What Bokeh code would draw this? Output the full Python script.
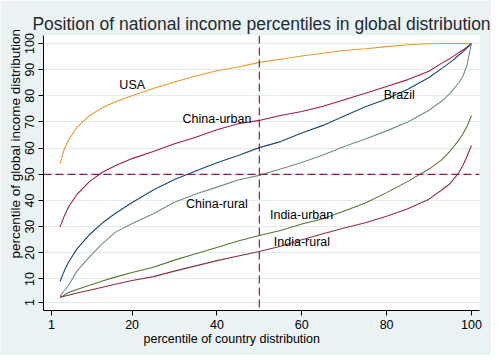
from bokeh.plotting import figure
from bokeh.models import Range1d, FixedTicker, Span, Label, Title
from bokeh.embed import file_html
from bokeh.resources import INLINE

# ---- data ----
x_pct = [3, 4, 5, 7, 10, 13, 16, 20, 25, 30, 35, 40, 45, 50, 55, 60, 65, 70, 75, 80, 85, 90, 93, 95, 97, 98, 99, 100]

usa = [54.0, 59.5, 63.0, 68.0, 72.5, 75.5, 77.6, 80.0, 82.8, 85.3, 87.6, 89.6, 91.0, 92.8, 94.0, 95.2, 96.3, 97.3, 98.0, 98.8, 99.5, 99.9, 100.0, 100.0, 100.0, 100.0, 100.0, 100.0]
china_urban = [29.8, 34.0, 37.5, 42.3, 47.3, 50.8, 53.3, 56.0, 58.7, 61.7, 64.2, 67.0, 69.3, 70.6, 72.5, 74.0, 76.0, 78.5, 81.0, 83.6, 86.2, 89.4, 92.5, 94.3, 96.5, 97.5, 98.7, 100.0]
brazil = [9.0, 13.0, 16.4, 21.5, 27.0, 31.4, 35.0, 39.2, 44.0, 48.0, 51.3, 54.4, 57.2, 60.2, 62.5, 65.8, 68.7, 72.3, 75.8, 78.8, 82.5, 87.0, 90.5, 92.8, 95.5, 96.8, 98.3, 100.0]
china_rural = [3.5, 5.5, 7.5, 13.0, 18.5, 23.5, 27.8, 31.2, 34.9, 39.3, 42.5, 45.1, 47.8, 49.6, 52.0, 54.5, 57.4, 60.6, 63.5, 66.6, 70.0, 74.5, 78.0, 81.0, 85.0, 87.5, 92.0, 100.0]
india_urban = [3.0, 3.8, 4.8, 6.0, 7.6, 9.2, 10.7, 12.5, 14.5, 17.2, 19.6, 22.0, 24.5, 26.6, 28.5, 31.0, 33.0, 36.0, 39.0, 43.0, 47.3, 52.0, 55.5, 59.0, 63.0, 65.5, 68.5, 72.5]
india_rural = [3.0, 3.4, 3.8, 4.6, 5.7, 6.8, 8.0, 9.4, 10.9, 13.0, 15.0, 17.0, 18.8, 20.5, 22.5, 25.0, 27.3, 29.5, 31.5, 34.0, 36.8, 40.5, 44.0, 46.5, 50.5, 53.5, 57.0, 61.0]

series_names = ["USA", "China-urban", "Brazil", "China-rural", "India-urban", "India-rural"]
series_values = [usa, china_urban, brazil, china_rural, india_urban, india_rural]
series_colors = ["#E39A32", "#A01A52", "#1A476F", "#6E8E84", "#55752F", "#8C3040"]

label_x = [17.0, 31.9, 79.3, 32.7, 52.5, 53.4]
label_y = [84.3, 71.3, 80.5, 38.8, 34.3, 24.1]

x_ticks = [1, 20, 40, 60, 80, 100]
y_ticks = [1, 10, 20, 30, 40, 50, 60, 70, 80, 90, 100]
ref_value = 50

title_text = "Position of national income percentiles in global distribution"
x_title = "percentile of country distribution"
y_title = "percentile of global income distribution"

FONT = "Liberation Sans"
BG = "#EAF2F3"

p = figure(width=491, height=355, output_backend="svg", toolbar_location=None,
           x_range=Range1d(-0.886, 101.9), y_range=Range1d(-2.06, 103.06),
           min_border_left=43, min_border_right=12, min_border_top=35, min_border_bottom=45,
           title=title_text)
p.border_fill_color = BG
p.background_fill_color = "white"
p.outline_line_color = None

p.title.align = "center"
p.title.text_font = FONT
p.title.text_font_size = "17.5px"
p.title.text_font_style = "normal"
p.title.text_color = "#1E2A34"
p.title.standoff = 4

for ax in (p.xaxis, p.yaxis):
    ax.axis_line_color = "black"
    ax.axis_line_width = 1
    ax.major_tick_line_color = "black"
    ax.major_tick_out = 5
    ax.major_tick_in = 0
    ax.minor_tick_line_color = None
    ax.major_label_text_font = FONT
    ax.major_label_text_font_size = "12.5px"
    ax.major_label_text_color = "black"
    ax.major_label_standoff = 4

p.xaxis.ticker = FixedTicker(ticks=x_ticks)
p.yaxis.ticker = FixedTicker(ticks=y_ticks)
p.yaxis.major_label_orientation = "vertical"

p.xgrid.visible = False
p.ygrid.ticker = FixedTicker(ticks=y_ticks)
p.ygrid.grid_line_color = "#E2EAEC"
p.ygrid.grid_line_width = 1

for name, vals, col in zip(series_names, series_values, series_colors):
    p.line(x_pct, vals, line_color=col, line_width=1.1)

p.add_layout(Span(location=ref_value, dimension="width", line_color="#8E1C4C",
                  line_dash="8 4", line_width=1.2))
p.add_layout(Span(location=ref_value, dimension="height", line_color="#8E1C4C",
                  line_dash="8 4", line_width=1.2))

for t, lx, ly in zip(series_names, label_x, label_y):
    p.add_layout(Label(x=lx, y=ly, text=t, text_font=FONT, text_font_size="12.5px",
                       text_color="black", text_align="left", text_baseline="middle"))

# axis titles as side titles, offset to sit where the reference has them
p.add_layout(Title(text=x_title, align="left", offset=100, standoff=-4,
                   text_font=FONT, text_font_size="12.5px", text_font_style="normal",
                   text_color="black"), "below")
p.add_layout(Title(text=y_title, align="left", offset=52, standoff=0,
                   text_font=FONT, text_font_size="13.5px", text_font_style="normal",
                   text_color="black"), "left")

open("out.html", "w").write(file_html(p, INLINE))
